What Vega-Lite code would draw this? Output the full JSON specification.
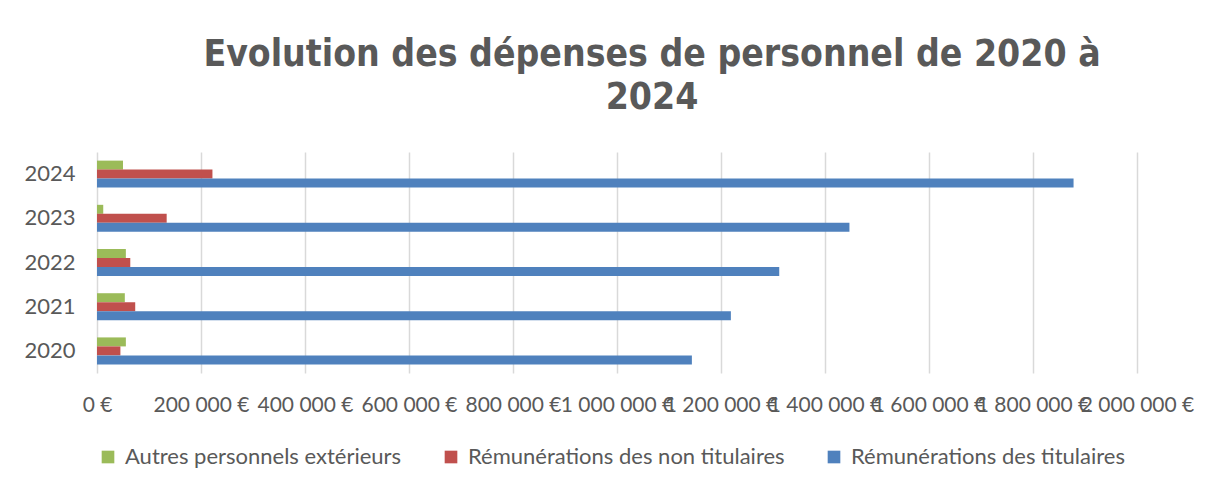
{
  "$schema": "https://vega.github.io/schema/vega-lite/v6.json",
  "autosize": {"type": "none"},
  "width": 1040,
  "height": 221,
  "padding": {"left": 97, "top": 152, "right": 77, "bottom": 116},
  "background": "white",
  "config": {
    "locale": {"number": {"decimal": ",", "thousands": " ", "grouping": [3], "currency": ["", " €"]}},
    "view": {"stroke": null},
    "font": "Lato"
  },
  "title": {
    "text": ["Evolution des dépenses de personnel de 2020 à", "2024"],
    "font": "DejaVu Sans Condensed",
    "fontSize": 37,
    "fontWeight": "bold",
    "color": "#595959",
    "anchor": "middle",
    "dx": 35,
    "offset": 35,
    "lineHeight": 43
  },
  "data": {
    "values": [
      {"year": "2020", "series": "Autres personnels extérieurs", "value": 55500},
      {"year": "2020", "series": "Rémunérations des non titulaires", "value": 45000},
      {"year": "2020", "series": "Rémunérations des titulaires", "value": 1144000},
      {"year": "2021", "series": "Autres personnels extérieurs", "value": 53500},
      {"year": "2021", "series": "Rémunérations des non titulaires", "value": 73500},
      {"year": "2021", "series": "Rémunérations des titulaires", "value": 1219000},
      {"year": "2022", "series": "Autres personnels extérieurs", "value": 55500},
      {"year": "2022", "series": "Rémunérations des non titulaires", "value": 64000},
      {"year": "2022", "series": "Rémunérations des titulaires", "value": 1312000},
      {"year": "2023", "series": "Autres personnels extérieurs", "value": 12000},
      {"year": "2023", "series": "Rémunérations des non titulaires", "value": 134000},
      {"year": "2023", "series": "Rémunérations des titulaires", "value": 1447000},
      {"year": "2024", "series": "Autres personnels extérieurs", "value": 50000},
      {"year": "2024", "series": "Rémunérations des non titulaires", "value": 222000},
      {"year": "2024", "series": "Rémunérations des titulaires", "value": 1878000}
    ]
  },
  "mark": {"type": "bar"},
  "encoding": {
    "y": {
      "field": "year",
      "type": "ordinal",
      "sort": "descending",
      "title": null,
      "scale": {"paddingInner": 0.39, "paddingOuter": 0.195},
      "axis": {
        "domain": false,
        "ticks": false,
        "labelPadding": 22,
        "labelFontSize": 22,
        "labelColor": "#595959",
        "labelFont": "Lato"
      }
    },
    "yOffset": {
      "field": "series",
      "type": "nominal",
      "sort": ["Autres personnels extérieurs", "Rémunérations des non titulaires", "Rémunérations des titulaires"],
      "scale": {"paddingInner": 0, "paddingOuter": 0}
    },
    "x": {
      "field": "value",
      "type": "quantitative",
      "title": null,
      "scale": {"domain": [0, 2000000], "nice": false},
      "axis": {
        "values": [0, 200000, 400000, 600000, 800000, 1000000, 1200000, 1400000, 1600000, 1800000, 2000000],
        "format": "$,.0f",
        "domain": false,
        "ticks": false,
        "grid": true,
        "gridColor": "#D9D9D9",
        "gridWidth": 1.5,
        "labelPadding": 21,
        "labelFontSize": 21,
        "labelColor": "#595959",
        "labelFont": "Lato",
        "labelOverlap": false,
        "labelFlush": false
      }
    },
    "color": {
      "field": "series",
      "type": "nominal",
      "scale": {
        "domain": ["Autres personnels extérieurs", "Rémunérations des non titulaires", "Rémunérations des titulaires"],
        "range": ["#9BBB59", "#C0504D", "#4F81BD"]
      },
      "legend": {
        "orient": "bottom",
        "direction": "horizontal",
        "title": null,
        "symbolType": "square",
        "symbolSize": 160,
        "symbolStrokeWidth": 0,
        "labelFontSize": 22,
        "labelColor": "#595959",
        "labelFont": "Lato",
        "labelLimit": 400,
        "columnPadding": 38,
        "labelOffset": 6,
        "offset": 31
      }
    }
  }
}
